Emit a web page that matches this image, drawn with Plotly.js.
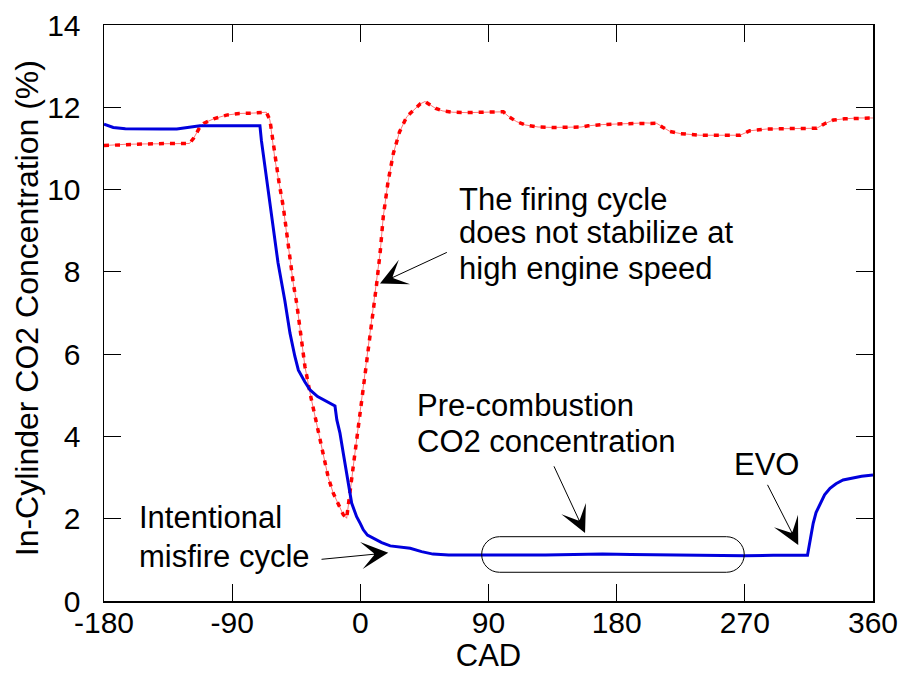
<!DOCTYPE html>
<html>
<head>
<meta charset="utf-8">
<script src="https://cdn.plot.ly/plotly-3.0.1.min.js"></script>
<style>html,body{margin:0;padding:0;background:#fff;}#chart{width:902px;height:675px;}</style>
</head>
<body>
<div id="chart"></div>
<script>
// Intentional misfire cycle (blue, solid)
const misfireCAD = [-180, -173.5, -165, -154.7, -140, -128.9, -121.9, -112.6, -100, -85, -70.5, -69.5, -66.5, -64.6, -61.5, -57.8, -53, -49.4, -46, -43.5, -39, -35.3, -30, -26, -22, -17.8, -16.5, -14.3, -12, -9.6, -7.5, -6.1, -4, -2.6, 0, 2.1, 5, 9.1, 15, 21, 28, 35, 43, 51, 62, 75, 90, 110, 130, 150, 170, 190, 210, 230, 250, 270, 290, 314, 316, 318, 320, 322.8, 326, 329.8, 334, 339, 345, 352, 360];
const misfireCO2 = [11.59, 11.51, 11.48, 11.47, 11.47, 11.47, 11.50, 11.55, 11.55, 11.55, 11.55, 11.2, 10.4, 9.9, 9.2, 8.22, 7.3, 6.51, 5.95, 5.61, 5.33, 5.13, 4.97, 4.89, 4.82, 4.74, 4.4, 4.08, 3.6, 3.11, 2.7, 2.38, 2.18, 2.05, 1.88, 1.73, 1.6, 1.52, 1.42, 1.34, 1.31, 1.28, 1.2, 1.14, 1.12, 1.12, 1.11, 1.11, 1.12, 1.13, 1.14, 1.13, 1.12, 1.11, 1.10, 1.10, 1.11, 1.11, 1.5, 1.89, 2.15, 2.37, 2.58, 2.74, 2.85, 2.94, 2.99, 3.03, 3.06];

// Firing cycle (red, dashed)
const firingCAD = [-180, -165, -150, -135, -120, -117, -113, -110, -103, -94, -85, -75, -66, -63.5, -61.5, -59.9, -57, -54.1, -52, -49.4, -47, -44.7, -41.5, -38.9, -35, -31.8, -29, -26, -22.5, -19, -15, -12, -9.6, -8, -6.1, -4.5, -2.6, 0, 2.1, 4.5, 6.8, 9.1, 11.5, 14, 16.1, 19.5, 23.2, 27.5, 32.6, 38, 42, 45.4, 49, 53, 58, 65, 75, 85, 95, 100.4, 104, 109.8, 116, 125, 135, 150, 155, 160, 170, 185, 200, 208.1, 212, 217.5, 225, 238.5, 255, 266.6, 273.6, 285, 297, 310, 320.5, 326, 332.1, 340, 350, 360];
const firingCO2 = [11.07, 11.10, 11.11, 11.12, 11.12, 11.25, 11.5, 11.61, 11.72, 11.81, 11.85, 11.86, 11.88, 11.69, 11.2, 10.72, 10.15, 9.58, 9.0, 8.29, 7.7, 7.24, 6.45, 5.70, 5.0, 4.48, 4.0, 3.51, 3.0, 2.62, 2.3, 2.1, 2.01, 2.4, 2.94, 3.4, 3.91, 4.6, 5.21, 5.9, 6.51, 7.15, 7.72, 8.5, 9.34, 10.2, 10.88, 11.4, 11.77, 11.95, 12.08, 12.14, 12.05, 11.97, 11.91, 11.88, 11.87, 11.88, 11.9, 11.89, 11.78, 11.65, 11.57, 11.52, 11.51, 11.51, 11.52, 11.55, 11.58, 11.6, 11.62, 11.61, 11.52, 11.41, 11.36, 11.32, 11.32, 11.32, 11.43, 11.47, 11.48, 11.49, 11.49, 11.6, 11.69, 11.72, 11.74, 11.74];

const xTicks = [-180, -90, 0, 90, 180, 270, 360];
const yTicks = [0, 2, 4, 6, 8, 10, 12, 14];
const xTitle = 'CAD';
const yTitle = 'In-Cylinder CO2 Concentration (%)';

// Annotation texts (left-aligned lines) and their anchors in data units
const noteLines = [
  {text: "The firing cycle", x: 67.9, y: 9.75},
  {text: "does not stabilize at", x: 67.9, y: 8.95},
  {text: "high engine speed", x: 67.9, y: 8.07},
  {text: "Pre-combustion", x: 38.4, y: 4.76},
  {text: "CO2 concentration", x: 38.4, y: 3.87},
  {text: "EVO", x: 260.8, y: 3.31},
  {text: "Intentional", x: -156.8, y: 2.02},
  {text: "misfire cycle", x: -156.8, y: 1.07}
];
// Arrows: tip (x,y) and tail (ax,ay) in data units
const arrows = [
  {x: 13.8, y: 7.72, ax: 61.8, ay: 8.49},
  {x: 19.6, y: 1.17, ax: -28.3, ay: 1.01},
  {x: 157.8, y: 1.65, ax: 135.5, ay: 3.31},
  {x: 307.5, y: 1.36, ax: 285.4, ay: 2.86}
];
// Rounded box around the pre-combustion region (data units)
const box = {x0: 85.2, x1: 269.6, y0: 0.698, y1: 1.563, rx: 12.5};

function stadiumPath(b) {
  const k = 0.5523;
  const ym = (b.y0 + b.y1) / 2, ry = (b.y1 - b.y0) / 2;
  const xl = b.x0 + b.rx, xr = b.x1 - b.rx;
  return `M${xl},${b.y1} L${xr},${b.y1} ` +
    `C${xr + k*b.rx},${b.y1} ${b.x1},${ym + k*ry} ${b.x1},${ym} ` +
    `C${b.x1},${ym - k*ry} ${xr + k*b.rx},${b.y0} ${xr},${b.y0} ` +
    `L${xl},${b.y0} ` +
    `C${xl - k*b.rx},${b.y0} ${b.x0},${ym - k*ry} ${b.x0},${ym} ` +
    `C${b.x0},${ym + k*ry} ${xl - k*b.rx},${b.y1} ${xl},${b.y1} Z`;
}

const FONT = '"Liberation Sans", Arial, sans-serif';

const traces = [
  {x: firingCAD, y: firingCO2, mode: 'lines', line: {color: 'rgba(255,0,0,0.55)', width: 1}, hoverinfo: 'skip', showlegend: false},
  {x: firingCAD, y: firingCO2, mode: 'lines', line: {color: '#ff0000', width: 3.5, dash: '5px,6px'}, showlegend: false},
  {x: misfireCAD, y: misfireCO2, mode: 'lines', line: {color: '#0000dd', width: 3}, showlegend: false}
];

const annotations = [];
noteLines.forEach(n => annotations.push({
  x: n.x, y: n.y, xref: 'x', yref: 'y', text: n.text, showarrow: false,
  xanchor: 'left', yanchor: 'middle', font: {family: FONT, size: 31, color: '#000'}
}));
arrows.forEach(a => annotations.push({
  x: a.x, y: a.y, ax: a.ax, ay: a.ay, xref: 'x', yref: 'y', axref: 'x', ayref: 'y',
  text: '', showarrow: true, arrowhead: 3, arrowsize: 4.5, arrowwidth: 1, arrowcolor: '#000', standoff: 0
}));
// Y-axis title drawn as a rotated annotation for precise placement
annotations.push({
  x: -0.099, y: 0.508, xref: 'paper', yref: 'paper', text: yTitle, showarrow: false,
  textangle: -90, xanchor: 'center', yanchor: 'middle',
  font: {family: FONT, size: 32, color: '#000'}
});

const layout = {
  width: 902, height: 675,
  margin: {l: 104, r: 29, t: 25, b: 74},
  paper_bgcolor: '#fff', plot_bgcolor: '#fff',
  font: {family: FONT, color: '#000'},
  showlegend: false,
  xaxis: {
    range: [-180, 360], tickvals: xTicks, ticktext: xTicks.map(String),
    ticks: 'inside', ticklen: 17, tickwidth: 1, tickcolor: '#000',
    showline: true, linecolor: '#000', linewidth: 1.5, mirror: 'ticks',
    showgrid: false, zeroline: false,
    tickfont: {family: FONT, size: 30, color: '#000'},
    ticklabelstandoff: -6,
    title: {text: xTitle, font: {family: FONT, size: 31, color: '#000'}, standoff: 0}
  },
  yaxis: {
    range: [0, 14], tickvals: yTicks, ticktext: yTicks.map(String),
    ticks: 'inside', ticklen: 17, tickwidth: 1, tickcolor: '#000',
    showline: true, linecolor: '#000', linewidth: 1.5, mirror: 'ticks',
    showgrid: false, zeroline: false,
    tickfont: {family: FONT, size: 30, color: '#000'},
    ticklabelstandoff: 16
  },
  shapes: [{type: 'path', xref: 'x', yref: 'y', path: stadiumPath(box), line: {color: '#000', width: 1}, fillcolor: 'rgba(0,0,0,0)', layer: 'above'}],
  annotations: annotations
};

Plotly.newPlot('chart', traces, layout, {displayModeBar: false, staticPlot: true});
</script>
</body>
</html>
